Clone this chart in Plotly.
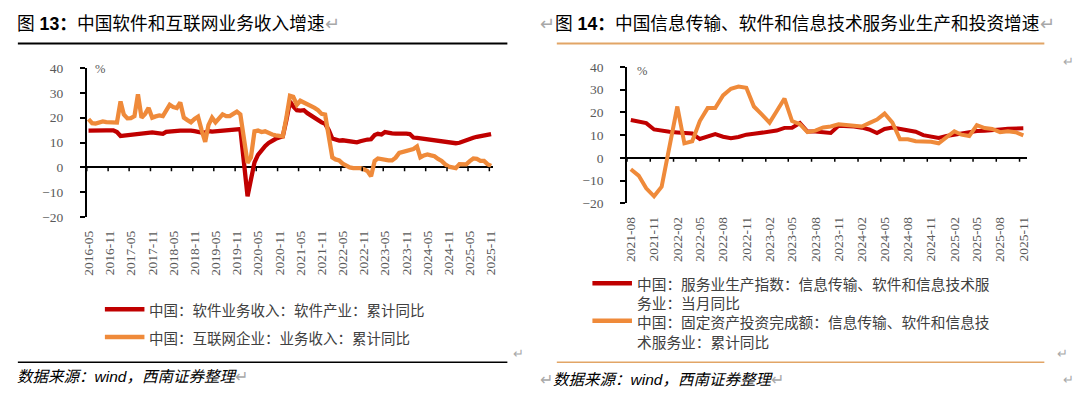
import plotly.graph_objects as go
import pandas as pd

W, H = 1080, 399

# ---------------- data: left chart (monthly, 2016-05 .. 2025-11) ----------------
left_start, left_end = "2016-05-01", "2025-11-01"
software_rev = [
    14.8, 14.9, 14.8, 14.9, 14.8, 14.9, 14.9, 14.9,
    14.2, 12.6, 12.8, 13.0, 13.2, 13.3, 13.5, 13.7, 13.8, 13.9, 14.1, 13.9,
    13.7, 13.5, 14.3, 14.5, 14.4, 14.6, 14.8, 14.8, 14.9, 14.8, 14.6, 14.2,
    14.0, 14.1, 14.6, 14.4, 14.5, 14.7, 14.6, 14.7, 14.9, 15.0, 15.2, 15.4,
    2.0, -11.6, -5.0, 2.0, 5.0, 7.0, 8.5, 9.8, 10.8, 11.5, 12.0, 12.5,
    19.0, 26.5, 24.5, 23.0, 22.8, 23.0, 21.8, 20.8, 20.0, 19.2, 18.1, 17.5,
    15.0, 11.6, 11.0, 10.8, 10.9, 10.6, 10.3, 10.0, 10.1, 10.5, 11.0, 11.2,
    11.3, 13.0, 13.5, 13.2, 14.2, 13.8, 13.7, 13.6, 13.7, 13.9, 13.6, 13.4,
    12.0, 11.9, 11.7, 11.5, 11.3, 11.2, 11.0, 11.0, 10.8, 10.5, 10.0, 9.8,
    9.7, 9.9, 10.4, 11.2, 11.5, 11.9, 12.3, 12.6, 12.8, 13.2, 13.4,
]
internet_rev = [
    19.4, 17.8, 17.6, 18.1, 18.5, 18.2, 18.1, 17.8,
    18.0, 26.5, 21.3, 19.7, 19.8, 20.6, 29.4, 20.0, 21.5, 23.9, 20.0, 20.5,
    20.9, 20.6, 22.5, 25.2, 24.3, 23.9, 26.1, 20.0, 19.0, 18.1, 19.5, 20.4,
    15.0, 10.3, 17.0, 20.0, 18.1, 19.5, 21.3, 20.6, 20.6, 21.5, 22.4, 21.3,
    12.0, 1.8, 4.0, 14.5, 14.8, 14.2, 14.5, 13.6, 13.2, 12.9, 12.7, 12.5,
    20.0, 28.8, 28.4, 25.2, 26.8, 26.1, 25.5, 25.0, 23.9, 23.0, 21.5, 21.2,
    12.0, 4.0, 3.2, 2.8, 1.5, 0.5, 0.0, -0.3, -0.3, -0.3, -0.8, -1.5,
    -3.6, 2.6, 3.6, 3.2, 2.8, 2.8, 2.8, 3.9, 5.8, 6.2, 6.5, 6.8,
    7.4, 8.4, 4.0, 4.8, 5.2, 4.8, 4.5, 3.4, 2.6, 1.2, 0.3, 0.0,
    -0.3, 1.3, 1.3, 1.2, 2.5, 3.6, 3.4, 2.6, 2.6, 1.3, 0.6,
]
left_tick_labels = [
    "2016-05", "2016-11", "2017-05", "2017-11", "2018-05", "2018-11", "2019-05",
    "2019-11", "2020-05", "2020-11", "2021-05", "2021-11", "2022-05", "2022-11",
    "2023-05", "2023-11", "2024-05", "2024-11", "2025-05", "2025-11",
]
left_names = ["中国：软件业务收入：软件产业：累计同比", "中国：互联网企业：业务收入：累计同比"]

# ---------------- data: right chart (monthly, 2021-08 .. 2025-11) ----------------
right_start, right_end = "2021-08-01", "2025-11-01"
service_idx = [
    16.7, 16.0, 15.3, 12.5, 11.8, 11.5, 11.2, 11.0, 10.7, 8.3,
    9.2, 10.5, 9.3, 8.6, 9.2, 10.2, 10.6, 11.0, 11.5, 12.0,
    13.2, 13.3, 15.3, 11.6, 11.6, 11.3, 11.0, 14.1, 14.1, 13.8,
    13.3, 12.5, 10.9, 12.7, 13.4, 12.9, 12.2, 11.5, 10.0, 9.5,
    8.8, 9.6, 10.2, 10.5, 11.2, 11.8, 11.9, 12.0, 12.5, 12.8,
    13.0, 13.0,
]
fai_cum = [
    -5.0, -7.8, -13.4, -16.9, -12.7, 4.0, 22.6, 6.4, 7.3, 16.2,
    21.9, 21.9, 27.5, 30.4, 31.4, 30.8, 22.6, 19.1, 15.5, 20.5,
    26.1, 16.2, 14.8, 11.3, 12.0, 13.4, 13.8, 14.8, 14.4, 14.1,
    13.8, 15.3, 16.9, 19.5, 15.5, 8.2, 8.2, 7.3, 7.1, 7.1,
    6.4, 9.2, 11.7, 10.2, 9.6, 14.4, 13.1, 12.7, 11.3, 11.7,
    11.3, 9.9,
]
right_tick_labels = [
    "2021-08", "2021-11", "2022-02", "2022-05", "2022-08", "2022-11",
    "2023-02", "2023-05", "2023-08", "2023-11", "2024-02", "2024-05",
    "2024-08", "2024-11", "2025-02", "2025-05", "2025-08", "2025-11",
]
right_names = [
    ["中国：服务业生产指数：信息传输、软件和信息技术服", "务业：当月同比"],
    ["中国：固定资产投资完成额：信息传输、软件和信息技", "术服务业：累计同比"],
]

RED = "#C00000"
ORANGE = "#EF8A3A"
TAN = "#E2A566"
GRAY = "#595959"
CJK = "Noto Sans CJK SC"
SERIF = "Liberation Serif, " + CJK
SANS = "Liberation Sans, " + CJK

left_dates = pd.date_range(left_start, left_end, freq="MS")
right_dates = pd.date_range(right_start, right_end, freq="MS")


def fx(px):
    return px / W


def fy(py):
    return 1 - py / H


fig = go.Figure()
fig.add_trace(go.Scatter(x=left_dates, y=software_rev, mode="lines", name=left_names[0],
                         line=dict(color=RED, width=4.3), xaxis="x", yaxis="y", showlegend=False))
fig.add_trace(go.Scatter(x=left_dates, y=internet_rev, mode="lines", name=left_names[1],
                         line=dict(color=ORANGE, width=4.3), xaxis="x", yaxis="y", showlegend=False))
fig.add_trace(go.Scatter(x=right_dates, y=service_idx, mode="lines", name="".join(right_names[0]),
                         line=dict(color=RED, width=4), xaxis="x2", yaxis="y2", showlegend=False))
fig.add_trace(go.Scatter(x=right_dates, y=fai_cum, mode="lines", name="".join(right_names[1]),
                         line=dict(color=ORANGE, width=4), xaxis="x2", yaxis="y2", showlegend=False))

tickfont = dict(family=SERIF, size=13.5, color=GRAY)


def xaxis_cfg(domain, rng, labels, anchor):
    return dict(domain=domain, anchor=anchor, type="date", range=rng,
                tickmode="array", tickvals=[l + "-01" for l in labels], ticktext=labels,
                tickangle=-90, tickfont=tickfont, ticks="", showline=False,
                showgrid=False, zeroline=False, ticklabelstandoff=10)


def yaxis_cfg(domain, anchor):
    return dict(domain=domain, anchor=anchor, range=[-20, 40], tick0=0, dtick=10,
                showline=True, linecolor="black", linewidth=1.5,
                ticks="outside", ticklen=5, tickwidth=1.5, tickcolor="black",
                tickfont=tickfont, showgrid=False, zeroline=True,
                zerolinecolor="black", zerolinewidth=1.5, ticklabelstandoff=14)


fig.update_layout(
    width=W, height=H, margin=dict(l=0, r=0, t=0, b=0),
    paper_bgcolor="white", plot_bgcolor="white", showlegend=False,
    xaxis=xaxis_cfg([fx(81.7), fx(492.3)], ["2016-04-16", "2025-11-16"], left_tick_labels, "y"),
    yaxis=yaxis_cfg([fy(218.3), fy(63.3)], "x"),
    xaxis2=xaxis_cfg([fx(628), fx(1032.6)], ["2021-07-17", "2025-11-16"], right_tick_labels, "y2"),
    yaxis2=yaxis_cfg([fy(204), fy(62.3)], "x2"),
)

shapes = []
# category tick marks hanging from the zero line
for lab in left_tick_labels:
    t = pd.Timestamp(lab + "-01") - pd.Timedelta(days=15)
    shapes.append(dict(type="line", xref="x", yref="y", x0=t, x1=t, y0=0, y1=-1.6,
                       line=dict(color="black", width=1.5)))
for lab in right_tick_labels:
    t = pd.Timestamp(lab + "-01") - pd.Timedelta(days=15)
    shapes.append(dict(type="line", xref="x2", yref="y2", x0=t, x1=t, y0=0, y1=-1.7,
                       line=dict(color="black", width=1.5)))


def hline(x0, x1, y, color, width):
    shapes.append(dict(type="line", xref="paper", yref="paper", x0=fx(x0), x1=fx(x1),
                       y0=fy(y), y1=fy(y), line=dict(color=color, width=width)))


# frame rules
hline(12, 507, 38, "black", 2)
hline(12, 507, 369, "black", 1.5)
hline(557, 1050, 38, TAN, 2)
hline(557, 1050, 369, TAN, 1.5)
# legend keys
hline(100, 140, 314, RED, 4.5)
hline(100, 140, 343, ORANGE, 4.5)
hline(593, 633, 287, RED, 4.5)
hline(593, 633, 326, ORANGE, 4.5)
fig.update_layout(shapes=shapes)

anns = []


def text(x, y, s, size, color="#404040", family=CJK, xanchor="left"):
    anns.append(dict(x=fx(x), y=fy(y), xref="paper", yref="paper", text=s, showarrow=False,
                     xanchor=xanchor, yanchor="middle", borderpad=0,
                     font=dict(family=family, size=size, color=color)))


PM = "<span style='color:#A8A8A8'>↵</span>"
text(10, 18, "图 <b>13：</b>中国软件和互联网业务收入增速" + PM, 17.7, "black", SANS)
text(539, 18, PM + "图 <b>14：</b>中国信息传输、软件和信息技术服务业生产和投资增速" + PM, 17.7, "black", SANS)
text(1074, 57, "↵", 13, "#A8A8A8", SANS, "center")

text(95, 64, "%", 12.5, GRAY, SERIF, "center")
text(643, 66, "%", 12.5, GRAY, SERIF, "center")

text(144, 314, left_names[0], 14.5)
text(144, 343, left_names[1], 14.5)
text(637, 287, right_names[0][0], 14.7)
text(637, 307, right_names[0][1], 14.7)
text(637, 327, right_names[1][0], 14.7)
text(637, 348, right_names[1][1], 14.7)

text(518, 360, "↵", 13, "#A8A8A8", SANS, "center")
text(1068, 360, "↵", 13, "#A8A8A8", SANS, "center")

text(10, 384, "<i>数据来源：wind，西南证券整理</i>" + PM, 15.5, "black", SANS)
text(539, 387, PM + "<i>数据来源：wind，西南证券整理</i>" + PM, 15.5, "black", SANS)
text(1074, 387, "↵", 13, "#A8A8A8", SANS, "center")

fig.update_layout(annotations=anns)
fig.write_html(
    "out.html",
    config={"displayModeBar": False},
    post_script="document.body.style.margin='0';document.body.style.padding='0';"
                "document.body.style.overflow='hidden';",
)
